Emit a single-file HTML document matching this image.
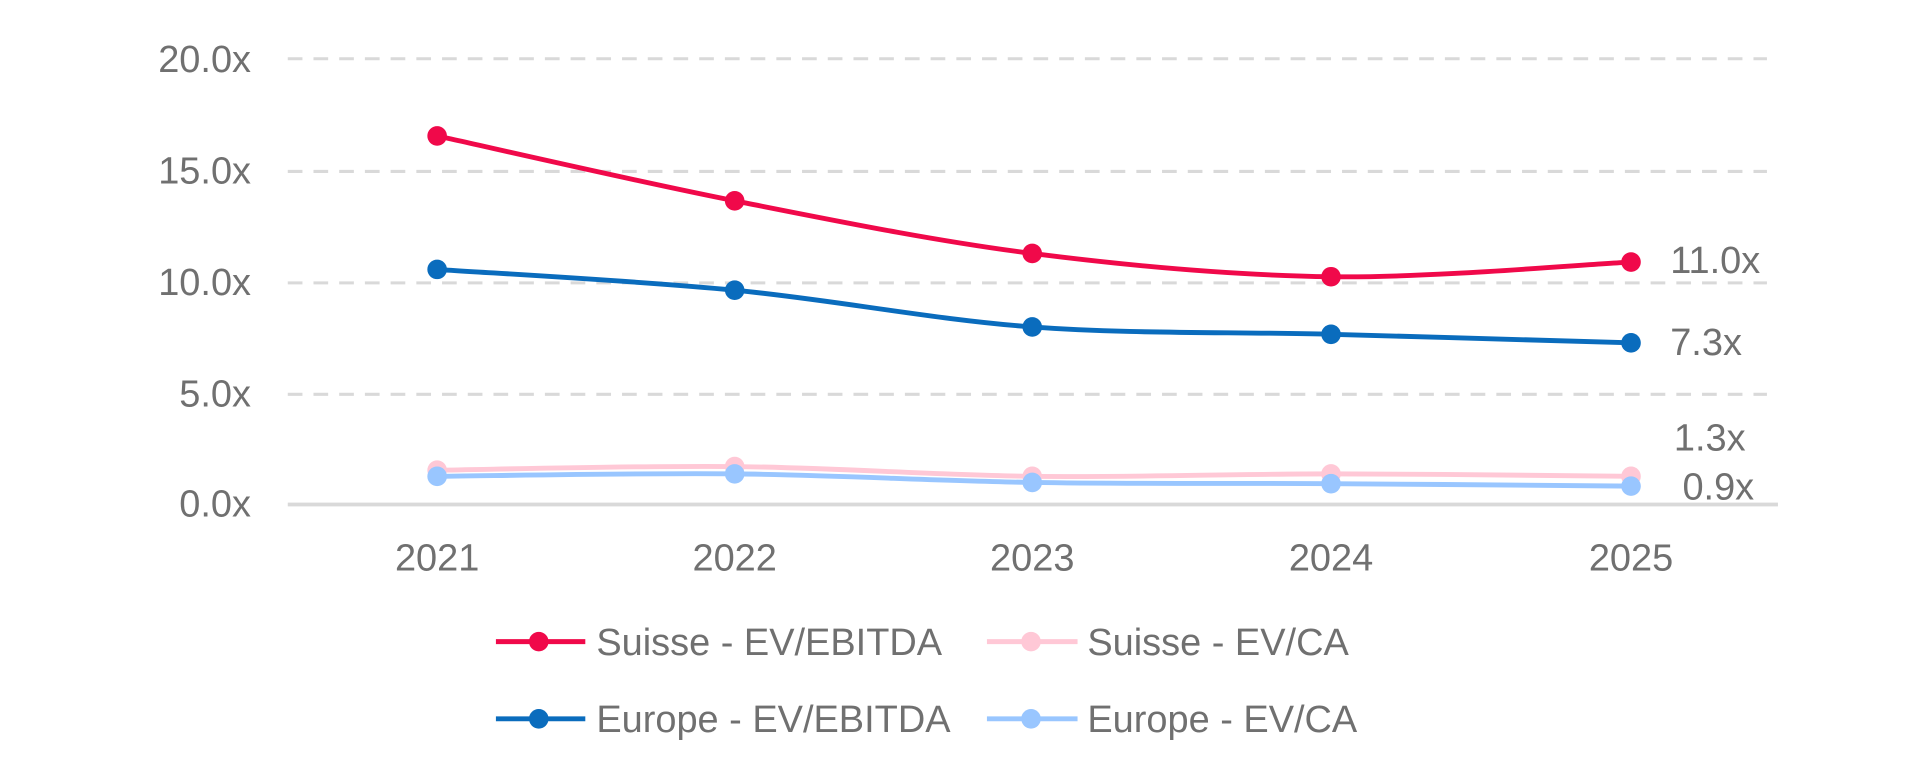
<!DOCTYPE html>
<html><head><meta charset="utf-8"><style>
html,body{margin:0;padding:0;background:#fff;width:1920px;height:780px;overflow:hidden}
svg{display:block}
text{font-family:"Liberation Sans",sans-serif;fill:#707070;font-size:31px}
</style></head><body>
<svg id="s" width="1920" height="780" viewBox="0 0 1568 637" preserveAspectRatio="none">
<g stroke="#d9d9d9" stroke-width="2.5" stroke-dasharray="12,9">
<line x1="235" y1="48" x2="1443" y2="48"/>
<line x1="235" y1="140" x2="1443" y2="140"/>
<line x1="235" y1="231" x2="1443" y2="231"/>
<line x1="235" y1="322" x2="1443" y2="322"/>
</g>
<line x1="235" y1="412" x2="1452" y2="412" stroke="#d9d9d9" stroke-width="3"/>
<g text-anchor="end">
<text x="205" y="59">20.0x</text><text x="205" y="150">15.0x</text><text x="205" y="241">10.0x</text><text x="205" y="332">5.0x</text><text x="205" y="422">0.0x</text>
</g>
<g text-anchor="middle">
<text x="357" y="466">2021</text><text x="600" y="466">2022</text><text x="843" y="466">2023</text><text x="1087" y="466">2024</text><text x="1332" y="466">2025</text>
</g>
<g id="series"></g>
<text x="1364" y="223">11.0x</text>
<text x="1364" y="290">7.3x</text>
<text x="1367" y="368">1.3x</text>
<text x="1374" y="408">0.9x</text>
<line x1="405" y1="524" x2="478" y2="524" stroke="#f0094a" stroke-width="4"/><circle cx="440" cy="524" r="8" fill="#f0094a"/>
<text x="487" y="535">Suisse - EV/EBITDA</text>
<line x1="806" y1="524" x2="880" y2="524" stroke="#ffc8d6" stroke-width="4"/><circle cx="842" cy="524" r="8" fill="#ffc8d6"/>
<text x="888" y="535">Suisse - EV/CA</text>
<line x1="405" y1="587" x2="478" y2="587" stroke="#0a6cbd" stroke-width="4"/><circle cx="440" cy="587" r="8" fill="#0a6cbd"/>
<text x="487" y="598">Europe - EV/EBITDA</text>
<line x1="806" y1="587" x2="880" y2="587" stroke="#99c6ff" stroke-width="4"/><circle cx="842" cy="587" r="8" fill="#99c6ff"/>
<text x="888" y="598">Europe - EV/CA</text>
</svg>
<script>
var xs=[357,600,843,1087,1332];
var S=[["#ffc8d6",[384,381,389,387,389]],["#99c6ff",[389,387,394,395,397]],["#0a6cbd",[220,237,267,273,280]],["#f0094a",[111,164,207,226,214]]];
var g=document.getElementById('series'),ns="http://www.w3.org/2000/svg",out="";
S.forEach(function(s){var y=s[1],d="M"+xs[0]+","+y[0],t=0.3;
for(var i=0;i<4;i++){var x0=xs[Math.max(i-1,0)],y0=y[Math.max(i-1,0)],x1=xs[i],y1=y[i],x2=xs[i+1],y2=y[i+1],x3=xs[Math.min(i+2,4)],y3=y[Math.min(i+2,4)];
d+=" C"+(x1+(x2-x0)*t/2*1.1)+","+(y1+(y2-y0)*t/2*1.1)+" "+(x2-(x3-x1)*t/2*1.1)+","+(y2-(y3-y1)*t/2*1.1)+" "+x2+","+y2;}
out+='<path d="'+d+'" fill="none" stroke="'+s[0]+'" stroke-width="4"/>';
xs.forEach(function(x,i){out+='<circle cx="'+x+'" cy="'+y[i]+'" r="8" fill="'+s[0]+'"/>';});});
g.innerHTML=out;
</script>
</body></html>
